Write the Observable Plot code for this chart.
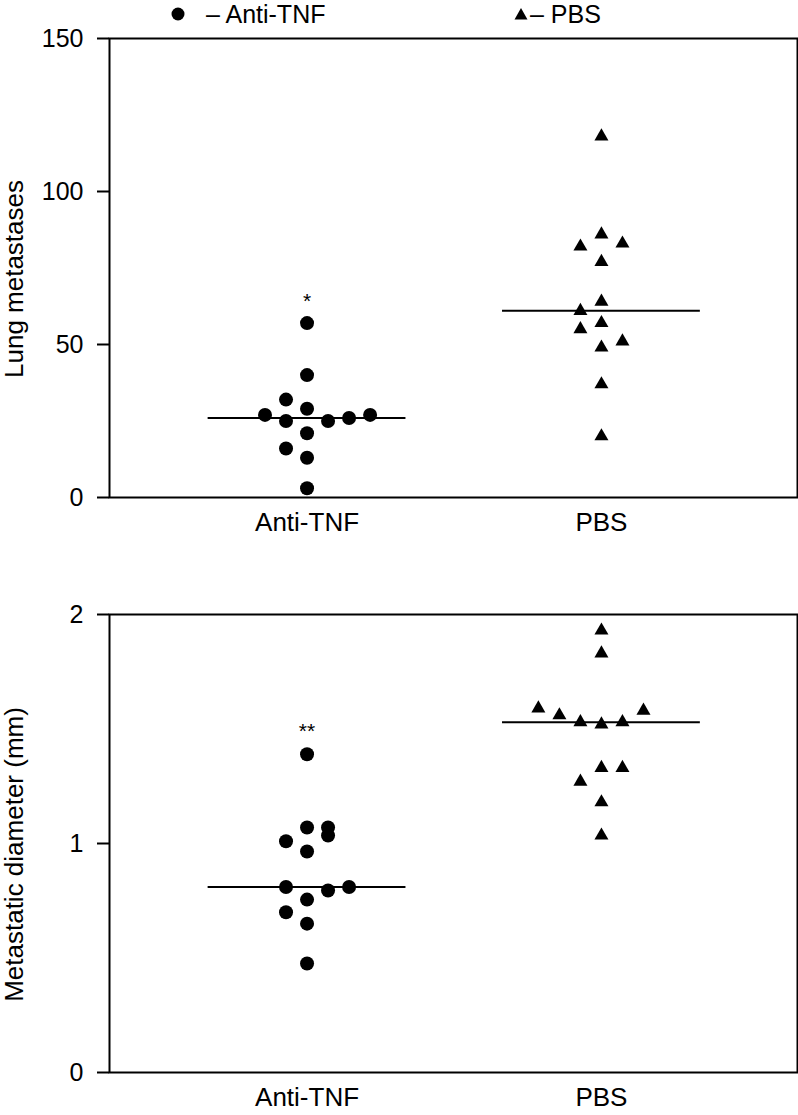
<!DOCTYPE html>
<html><head><meta charset="utf-8">
<script src="https://cdn.jsdelivr.net/npm/d3@7"></script>
<script src="https://cdn.jsdelivr.net/npm/@observablehq/plot@0.6"></script>
<style>
body{margin:0;background:#fff;font-family:"Liberation Sans",Arial,sans-serif;}
#wrap{position:relative;width:798px;height:1115px;overflow:hidden;}
.pl{position:absolute;left:0;}
.leg{position:absolute;font-size:25px;line-height:28px;white-space:nowrap;color:#000;z-index:2;}
.legsym{position:absolute;z-index:2;line-height:0;}
</style></head><body><div id="wrap"></div>
<script>
// Categories
const groups = ["Anti-TNF", "PBS"];
const legendLabels = ["– Anti-TNF", "– PBS"];

// Panel A: lung metastases
const metLabel = "Lung metastases";
const metTicks = [0, 50, 100, 150];
const metAnti = [57, 40, 32, 29, 27, 25, 25, 26, 27, 21, 16, 13, 3];
const metAntiSlot = [0, 0, -1, 0, -2, -1, 1, 2, 3, 0, -1, 0, 0];
const metPbs = [118, 86, 82, 83, 77, 64, 61, 57, 55, 51, 49, 37, 20];
const metPbsSlot = [0, 0, -1, 1, 0, 0, -1, 0, -1, 1, 0, 0, 0];
const metMedians = [26, 61];
const metSig = ["*", ""];
const metSigY = [64, null];

// Panel B: metastatic diameter
const diaLabel = "Metastatic diameter (mm)";
const diaTicks = [0, 1, 2];
const diaAnti = [1.39, 1.07, 1.07, 1.035, 1.01, 0.965, 0.81, 0.795, 0.81, 0.755, 0.70, 0.65, 0.476];
const diaAntiSlot = [0, 0, 1, 1, -1, 0, -1, 1, 2, 0, -1, 0, 0];
const diaPbs = [1.93, 1.83, 1.59, 1.56, 1.53, 1.52, 1.53, 1.58, 1.33, 1.33, 1.27, 1.18, 1.035];
const diaPbsSlot = [0, 0, -3, -2, -1, 0, 1, 2, 0, 1, -1, 0, 0];
const diaMedians = [0.81, 1.53];
const diaSig = ["**", ""];
const diaSigY = [1.49, null];

const STEP = 0.0714;   // horizontal spacing of tied points (in category units)
const HALF = 0.336;    // half width of median bar

const wrap = document.getElementById("wrap");

function panel(o) {
  const anti = o.anti.map((v, i) => ({g: 0, slot: o.antiSlot[i], v}));
  const pbs = o.pbs.map((v, i) => ({g: 1, slot: o.pbsSlot[i], v}));
  const med = o.medians.map((v, g) => ({g, v}));
  const sig = o.sig.map((t, g) => ({g, t, v: o.sigY[g]})).filter(d => d.t);
  const xj = d => d.g + d.slot * STEP;
  const chart = Plot.plot({
    width: 798, height: o.height,
    marginTop: o.marginTop, marginBottom: o.marginBottom, marginLeft: 109, marginRight: 1,
    x: {domain: [-0.671, 1.666], axis: null},
    y: {domain: o.yDomain, axis: null},
    style: {fontFamily: '"Liberation Sans", Arial, sans-serif', fontSize: "25px", color: "#000", background: "transparent", overflow: "visible"},
    marks: [
      Plot.frame({stroke: "#000", strokeWidth: 2}),
      Plot.axisY({ticks: o.ticks, tickSize: 12, tickPadding: 14, strokeWidth: 2, label: null, fontSize: 25, tickFormat: d => String(d)}),
      Plot.text(groups, {x: (d, i) => i, frameAnchor: "bottom", dy: 33, text: d => d, fontSize: 26}),
      Plot.ruleY(med, {y: "v", x1: d => d.g - HALF, x2: d => d.g + HALF, stroke: "#000", strokeWidth: 2}),
      Plot.dot(anti, {x: xj, y: "v", r: 7, fill: "#000", symbol: "circle"}),
      Plot.dot(pbs, {x: xj, y: "v", r: 5.2, fill: "#000", symbol: "triangle"}),
      Plot.text(sig, {x: "g", y: "v", text: "t", fontSize: 21}),
      Plot.text([o.label], {frameAnchor: "left", textAnchor: "middle", rotate: -90, dx: -95, dy: 11, text: d => d, fontSize: 26})
    ]
  });
  chart.classList.add("pl");
  chart.style.top = o.top + "px";
  wrap.appendChild(chart);
}

panel({anti: metAnti, antiSlot: metAntiSlot, pbs: metPbs, pbsSlot: metPbsSlot, medians: metMedians,
  sig: metSig, sigY: metSigY, yDomain: [0, 150], ticks: metTicks, label: metLabel,
  top: 0, height: 560, marginTop: 38, marginBottom: 63});
panel({anti: diaAnti, antiSlot: diaAntiSlot, pbs: diaPbs, pbsSlot: diaPbsSlot, medians: diaMedians,
  sig: diaSig, sigY: diaSigY, yDomain: [0, 2], ticks: diaTicks, label: diaLabel,
  top: 560, height: 555, marginTop: 54, marginBottom: 43});

// Legend
const legSymX = [178, 521];
const legTextX = [206, 530];
const symSvg = [
  '<svg width="14" height="14"><circle cx="7" cy="7" r="6.5" fill="#000"/></svg>',
  '<svg width="14" height="14"><path d="M7,1L13.5,12.5L0.5,12.5Z" fill="#000"/></svg>'
];
legendLabels.forEach((t, i) => {
  const s = document.createElement("div");
  s.className = "legsym";
  s.style.left = (legSymX[i] - 7) + "px";
  s.style.top = "7px";
  s.innerHTML = symSvg[i];
  wrap.appendChild(s);
  const el = document.createElement("div");
  el.className = "leg";
  el.style.left = legTextX[i] + "px";
  el.style.top = "0px";
  el.textContent = t;
  wrap.appendChild(el);
});
</script>
</body></html>
